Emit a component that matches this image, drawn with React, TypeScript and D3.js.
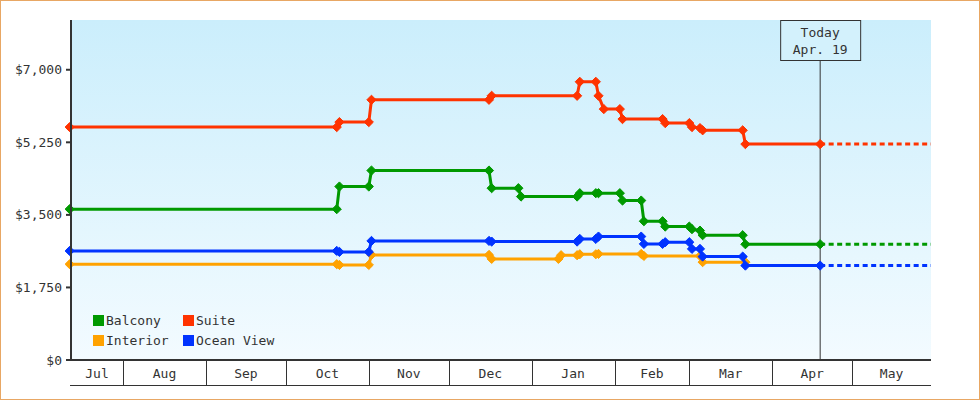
import React from "react";
import * as d3 from "d3";

const W = 980;
const H = 400;

const seriesNames = ["Balcony", "Suite", "Interior", "Ocean View"];
const seriesColors = ["#009900", "#FF3300", "#FFA200", "#0033FF"];

const balcony: [string, number][] = [
  ["2014-07-12", 3638], ["2014-10-20", 3638], ["2014-10-21", 4184], ["2014-11-01", 4184],
  ["2014-11-02", 4570], ["2014-12-16", 4570], ["2014-12-17", 4144], ["2014-12-27", 4144],
  ["2014-12-28", 3942], ["2015-01-18", 3942], ["2015-01-19", 4023], ["2015-01-25", 4023],
  ["2015-01-26", 4023], ["2015-02-03", 4023], ["2015-02-04", 3846], ["2015-02-11", 3846],
  ["2015-02-12", 3347], ["2015-02-19", 3347], ["2015-02-20", 3218], ["2015-03-01", 3218],
  ["2015-03-02", 3155], ["2015-03-05", 3121], ["2015-03-06", 3010], ["2015-03-21", 3010],
  ["2015-03-22", 2792], ["2015-04-19", 2792],
];

const suite: [string, number][] = [
  ["2014-07-12", 5617], ["2014-10-20", 5617], ["2014-10-21", 5738], ["2014-11-01", 5738],
  ["2014-11-02", 6276], ["2014-12-16", 6276], ["2014-12-17", 6372], ["2015-01-18", 6372],
  ["2015-01-19", 6710], ["2015-01-25", 6710], ["2015-01-26", 6372], ["2015-01-28", 6051],
  ["2015-02-03", 6051], ["2015-02-04", 5810], ["2015-02-19", 5810], ["2015-02-20", 5713],
  ["2015-03-01", 5713], ["2015-03-02", 5617], ["2015-03-05", 5593], ["2015-03-06", 5540],
  ["2015-03-21", 5540], ["2015-03-22", 5207], ["2015-04-19", 5207],
];

const interior: [string, number][] = [
  ["2014-07-12", 2310], ["2014-10-20", 2310], ["2014-10-21", 2293], ["2014-11-01", 2293],
  ["2014-11-02", 2534], ["2014-12-16", 2534], ["2014-12-17", 2438], ["2015-01-11", 2438],
  ["2015-01-12", 2527], ["2015-01-18", 2527], ["2015-01-19", 2550], ["2015-01-25", 2550],
  ["2015-01-26", 2559], ["2015-02-11", 2559], ["2015-02-12", 2510], ["2015-03-05", 2510],
  ["2015-03-06", 2360], ["2015-03-22", 2360],
];

const oceanView: [string, number][] = [
  ["2014-07-12", 2631], ["2014-10-20", 2631], ["2014-10-21", 2607], ["2014-11-01", 2607],
  ["2014-11-02", 2872], ["2014-12-16", 2872], ["2014-12-17", 2856], ["2015-01-18", 2856],
  ["2015-01-19", 2920], ["2015-01-25", 2920], ["2015-01-26", 2977], ["2015-02-11", 2977],
  ["2015-02-12", 2800], ["2015-02-19", 2800], ["2015-02-20", 2841], ["2015-03-01", 2841],
  ["2015-03-02", 2680], ["2015-03-05", 2680], ["2015-03-06", 2494], ["2015-03-21", 2494],
  ["2015-03-22", 2277], ["2015-04-19", 2277],
];

const seriesData = [balcony, suite, interior, oceanView];

const yTicks = [0, 1750, 3500, 5250, 7000];
const yMax = 8200;
const todayDate = "2015-04-19";
const todayLabel = ["Today", "Apr. 19"];
const domainStart = "2014-07-12T12";
const domainEnd = "2015-05-30T12";

const FONT = "'DejaVu Sans Mono', monospace";
const TEXT = "#333333";

export default function App() {
  const parse = d3.utcParse("%Y-%m-%d");
  const parseH = d3.utcParse("%Y-%m-%dT%H");
  const start = parseH(domainStart) as Date;
  const end = parseH(domainEnd) as Date;
  const today = parse(todayDate) as Date;

  const left = 71, right = 931, top = 20, bottom = 360, axisBottom = 385;
  const x = d3.scaleUtc().domain([start, end]).range([left, right]);
  const y = d3.scaleLinear().domain([0, yMax]).range([bottom, top]);

  const line = d3
    .line<[Date, number]>()
    .x((d) => x(d[0]))
    .y((d) => y(d[1]));

  const monthBounds = d3.utcMonth.range(d3.utcMonth.ceil(start), end);
  const edges = [start, ...monthBounds, end];
  const fmtMonth = d3.utcFormat("%b");
  const fmtY = (v: number) => "$" + d3.format(",")(v);

  const diamond = (cx: number, cy: number, r = 4.6) =>
    `M${cx},${cy - r}L${cx + r},${cy}L${cx},${cy + r}L${cx - r},${cy}Z`;

  const xToday = x(today);

  return (
    <svg
      width={W}
      height={H}
      style={{ position: "absolute", left: 0, top: 0, display: "block" }}
      fontFamily={FONT}
    >
      <defs>
        <linearGradient id="bg" x1="0" y1="0" x2="0" y2="1">
          <stop offset="0" stopColor="#CBEEFC" />
          <stop offset="1" stopColor="#F3FBFF" />
        </linearGradient>
        <clipPath id="plotclip">
          <rect x={left - 6} y={top} width={right - left + 6} height={bottom - top} />
        </clipPath>
      </defs>
      <rect x={0} y={0} width={W} height={H} fill="#ffffff" />
      <rect x={0.5} y={0.5} width={W - 1} height={H - 1} fill="none" stroke="#E8A764" />
      <rect x={left} y={top} width={right - left} height={bottom - top} fill="url(#bg)" />

      {/* today line */}
      <line x1={xToday} x2={xToday} y1={top + 40} y2={bottom} stroke={TEXT} strokeWidth={1} />

      {/* series */}
      <g clipPath="url(#plotclip)">
        {seriesData.map((s, i) => {
          const pts = s.map((d) => [parse(d[0]) as Date, d[1]] as [Date, number]);
          const last = pts[pts.length - 1];
          const reachesToday = +last[0] === +today;
          return (
            <g key={seriesNames[i]}>
              {reachesToday && (
                <path
                  d={line([last, [end, last[1]]]) || ""}
                  fill="none"
                  stroke={seriesColors[i]}
                  strokeWidth={3}
                  strokeDasharray="5,3.5"
                />
              )}
              <path
                d={line(pts) || ""}
                fill="none"
                stroke={seriesColors[i]}
                strokeWidth={3}
                strokeLinejoin="round"
              />
              {pts.map((p, j) => (
                <path key={j} d={diamond(x(p[0]), y(p[1]))} fill={seriesColors[i]} stroke={seriesColors[i]} strokeWidth={1} />
              ))}
            </g>
          );
        })}
      </g>

      {/* y axis */}
      <line x1={left} x2={left} y1={top} y2={bottom + 1} stroke={TEXT} strokeWidth={2} />
      {yTicks.map((t) => (
        <g key={t}>
          <line x1={left - 5} x2={left} y1={y(t)} y2={y(t)} stroke={TEXT} strokeWidth={2} />
          <text x={62} y={y(t)} dy="0.35em" textAnchor="end" fontSize={13} fill={TEXT}>
            {fmtY(t)}
          </text>
        </g>
      ))}

      {/* x axis */}
      <line x1={left - 1} x2={right} y1={bottom} y2={bottom} stroke={TEXT} strokeWidth={2} />
      <line x1={left - 1} x2={right} y1={axisBottom + 0.5} y2={axisBottom + 0.5} stroke={TEXT} strokeWidth={1} />
      {monthBounds.map((m) => (
        <line
          key={+m}
          x1={Math.round(x(m)) + 0.5}
          x2={Math.round(x(m)) + 0.5}
          y1={bottom}
          y2={axisBottom}
          stroke={TEXT}
          strokeWidth={1}
        />
      ))}
      {edges.slice(0, -1).map((e, i) => {
        const cx = (x(e) + x(edges[i + 1])) / 2;
        const label = fmtMonth(d3.utcMonth.floor(e));
        return (
          <text key={i} x={cx} y={378} textAnchor="middle" fontSize={13} fill={TEXT}>
            {label}
          </text>
        );
      })}

      {/* today box */}
      <rect x={xToday - 40 + 0.5} y={top + 0.5} width={80} height={40} fill="#D3F1FC" stroke={TEXT} strokeWidth={1} />
      <text x={xToday} y={37} textAnchor="middle" fontSize={13} fill={TEXT}>
        {todayLabel[0]}
      </text>
      <text x={xToday} y={54} textAnchor="middle" fontSize={13} fill={TEXT}>
        {todayLabel[1]}
      </text>

      {/* legend */}
      {seriesNames.map((n, i) => {
        const col = i % 2;
        const row = Math.floor(i / 2);
        const lx = 93 + col * 90;
        const ly = 315 + row * 20;
        return (
          <g key={n}>
            <rect x={lx} y={ly} width={11} height={11} fill={seriesColors[i]} />
            <text x={lx + 13} y={ly + 10} fontSize={13} fill={TEXT}>
              {n}
            </text>
          </g>
        );
      })}
    </svg>
  );
}
